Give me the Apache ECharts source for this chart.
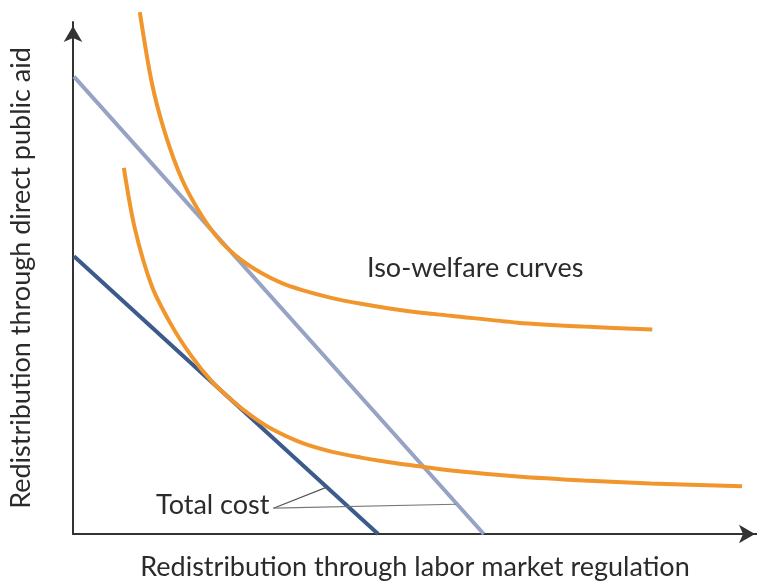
<!DOCTYPE html>
<html>
<head>
<meta charset="utf-8">
<script src="https://cdn.jsdelivr.net/npm/echarts@6/dist/echarts.min.js"></script>
<style>
  html, body { margin: 0; padding: 0; background: #fff; }
  #chart { width: 757px; height: 586px; }
</style>
</head>
<body>
<div id="chart"></div>
<script>
// values, in arbitrary units (x: 0..686, y: 0..516)
const upperX = [67, 79, 92, 109, 129, 149, 169, 189, 209, 229, 259, 289, 319, 349, 379, 446, 512, 581];
const upperY = [526, 455, 405, 358, 321, 294, 276, 263, 253, 246, 238, 232, 227, 223, 220, 213, 209, 206];

const lowerX = [51, 62, 79, 99, 119, 139, 159, 179, 199, 229, 259, 289, 319, 349, 379, 446, 512, 579, 671];
const lowerY = [369, 308, 250, 210, 179, 154, 135, 119, 106, 92, 83, 77, 72, 68, 64, 58, 54, 51, 48];

// budget lines (total cost)
const highCostX = [1, 412];
const highCostY = [461, 0];
const lowCostX = [1, 306];
const lowCostY = [280, 0];

// leader lines from the "Total cost" label
const leaderA = [[201, 26], [254, 47]];
const leaderB = [[201, 26], [384, 30]];

const zip = (xs, ys) => xs.map((x, i) => [x, ys[i]]);

const font = 'Lato';
const fontSize = 27;
const textColor = '#2b2b2b';

const chart = echarts.init(document.getElementById('chart'));

const option = {
  animation: false,
  grid: { left: 71, right: 0, top: 22, bottom: 48 },
  xAxis: {
    type: 'value',
    min: 0,
    max: 686,
    name: 'Redistribution through labor market regulation',
    nameLocation: 'middle',
    nameGap: 20,
    nameTextStyle: { fontFamily: font, fontSize: fontSize, color: textColor, verticalAlign: 'top' },
    axisLine: {
      show: true,
      lineStyle: { color: '#333', width: 2 },
      symbol: ['none', 'arrow'],
      symbolSize: [14, 16],
      symbolOffset: [0, -2]
    },
    axisTick: { show: false },
    axisLabel: { show: false },
    splitLine: { show: false }
  },
  yAxis: {
    type: 'value',
    min: 0,
    max: 516,
    name: 'Redistribution through direct public aid',
    nameLocation: 'middle',
    nameGap: 38,
    nameTextStyle: { fontFamily: font, fontSize: fontSize, color: textColor },
    axisLine: {
      show: true,
      lineStyle: { color: '#333', width: 2 },
      symbol: ['none', 'arrow'],
      symbolSize: [14, 16],
      symbolOffset: [0, -4]
    },
    axisTick: { show: false },
    axisLabel: { show: false },
    splitLine: { show: false }
  },
  series: [
    {
      type: 'line',
      data: zip(highCostX, highCostY),
      showSymbol: false,
      lineStyle: { color: '#97a3c4', width: 4 }
    },
    {
      type: 'line',
      data: zip(lowCostX, lowCostY),
      showSymbol: false,
      lineStyle: { color: '#3c5a8c', width: 4 }
    },
    {
      type: 'line',
      data: zip(upperX, upperY),
      smooth: 0.3,
      clip: false,
      showSymbol: false,
      lineStyle: { color: '#f0962d', width: 4 }
    },
    {
      type: 'line',
      data: zip(lowerX, lowerY),
      smooth: 0.3,
      showSymbol: false,
      lineStyle: { color: '#f0962d', width: 4 }
    },
    {
      type: 'line',
      data: leaderA,
      showSymbol: false,
      lineStyle: { color: '#555', width: 1.2 }
    },
    {
      type: 'line',
      data: leaderB,
      showSymbol: false,
      lineStyle: { color: '#777', width: 1.2 }
    }
  ],
  graphic: [
    {
      type: 'text',
      left: 367,
      top: 255,
      style: { text: 'Iso-welfare curves', fontFamily: font, fontSize: fontSize, fill: textColor }
    },
    {
      type: 'text',
      left: 156,
      top: 492,
      style: { text: 'Total cost', fontFamily: font, fontSize: fontSize, fill: textColor }
    }
  ]
};

chart.setOption(option);
</script>
</body>
</html>
